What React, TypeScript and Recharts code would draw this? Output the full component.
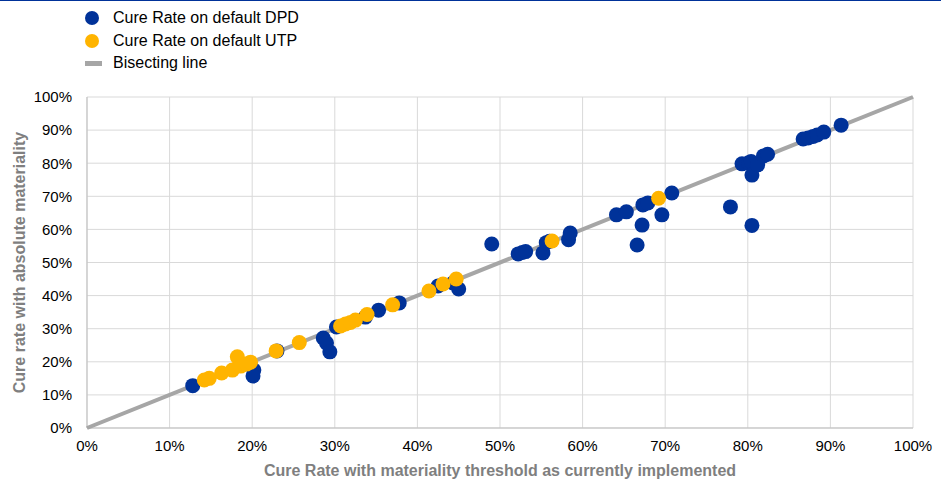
import React from 'react';
import { ScatterChart, Scatter, XAxis, YAxis, CartesianGrid } from 'recharts';

// values in percent
const dpdX = [12.8, 20.2, 20.1, 23.0, 28.6, 29.0, 29.4, 30.2, 33.7, 35.3, 37.8, 42.5, 44.3, 45.0, 49.0, 52.2, 52.7, 53.1, 55.2, 55.6, 56.0, 58.3, 58.5, 64.1, 65.3, 67.3, 67.9, 67.2, 66.6, 69.6, 70.8, 77.9, 79.3, 80.1, 80.4, 80.5, 80.5, 81.2, 81.9, 82.4, 86.7, 87.3, 87.9, 88.4, 89.2, 91.3];
const dpdY = [12.8, 17.5, 15.7, 23.3, 27.2, 25.7, 23.0, 30.5, 33.5, 35.6, 37.8, 42.9, 43.8, 42.0, 55.6, 52.6, 53.0, 53.3, 52.9, 56.0, 56.4, 56.9, 58.9, 64.4, 65.3, 67.4, 68.0, 61.3, 55.3, 64.4, 71.0, 66.8, 79.8, 80.1, 80.5, 76.4, 61.2, 79.5, 82.2, 82.7, 87.3, 87.6, 88.1, 88.5, 89.4, 91.5];

const utpX = [14.2, 14.8, 16.3, 17.6, 18.2, 18.6, 19.3, 19.8, 22.9, 25.7, 30.7, 31.3, 31.9, 32.5, 33.9, 37.0, 41.4, 43.1, 44.7, 56.3, 69.2];
const utpY = [14.5, 15.0, 16.6, 17.5, 21.5, 18.7, 19.3, 19.9, 23.3, 25.8, 30.8, 31.4, 31.9, 32.6, 34.3, 37.2, 41.4, 43.5, 45.0, 56.5, 69.4];

const bisectX = [0, 100];
const bisectY = [0, 100];

const ticks = [0, 10, 20, 30, 40, 50, 60, 70, 80, 90, 100];

const dpd = dpdX.map((x, i) => ({ x, y: dpdY[i] }));
const utp = utpX.map((x, i) => ({ x, y: utpY[i] }));
const bisect = bisectX.map((x, i) => ({ x, y: bisectY[i] }));

const BLUE = '#003299';
const YELLOW = '#ffb400';
const GREY = '#a6a6a6';
const FONT = "Arial, 'Liberation Sans', sans-serif";

const dot = (color: string) => (props: any) => <circle cx={props.cx} cy={props.cy} r={7.5} fill={color} />;

const App = () => {
  return (
    <div style={{ position: 'absolute', left: 0, top: 0, width: 941, height: 482, fontFamily: FONT, background: '#fff' }}>
      <style>{'body{margin:0}'}</style>
      <div style={{ position: 'absolute', left: 0, top: 0, width: 941, height: 1, background: BLUE }} />

      {/* legend */}
      <div style={{ position: 'absolute', left: 85, top: 7, fontSize: 16, color: '#000', lineHeight: '22.5px' }}>
        <div style={{ display: 'flex', alignItems: 'center' }}>
          <span style={{ width: 14, height: 14, borderRadius: 7, background: BLUE, display: 'inline-block', marginRight: 14 }} />
          Cure Rate on default DPD
        </div>
        <div style={{ display: 'flex', alignItems: 'center' }}>
          <span style={{ width: 14, height: 14, borderRadius: 7, background: YELLOW, display: 'inline-block', marginRight: 14 }} />
          Cure Rate on default UTP
        </div>
        <div style={{ display: 'flex', alignItems: 'center' }}>
          <span style={{ width: 17, height: 5, background: GREY, display: 'inline-block', marginRight: 11 }} />
          Bisecting line
        </div>
      </div>

      <ScatterChart width={941} height={482} margin={{ top: 97, right: 28, bottom: 0, left: 0 }}>
        <CartesianGrid stroke="#d9d9d9" strokeWidth={1} />
        <XAxis
          type="number"
          dataKey="x"
          domain={[0, 100]}
          ticks={ticks}
          tickFormatter={(v) => `${v}%`}
          height={54}
          tickLine={false}
          tickSize={0}
          tickMargin={12}
          axisLine={{ stroke: '#bfbfbf' }}
          tick={{ fill: '#000', fontSize: 15, fontFamily: FONT }}
          label={{ value: 'Cure Rate with materiality threshold as currently implemented', position: 'insideBottom', offset: 6, style: { fill: '#7f7f7f', fontSize: 16, fontWeight: 'bold', fontFamily: FONT } }}
        />
        <YAxis
          type="number"
          dataKey="y"
          domain={[0, 100]}
          ticks={ticks}
          tickFormatter={(v) => `${v}%`}
          width={87}
          tickLine={false}
          tickSize={0}
          tickMargin={15}
          axisLine={{ stroke: '#bfbfbf' }}
          tick={{ fill: '#000', fontSize: 15, fontFamily: FONT }}
          label={{ value: 'Cure rate with absolute materiality', angle: -90, position: 'insideLeft', offset: 19, style: { textAnchor: 'middle', fill: '#7f7f7f', fontSize: 16, fontWeight: 'bold', fontFamily: FONT } }}
        />
        <Scatter data={bisect} line={{ stroke: GREY, strokeWidth: 4 }} shape={() => null} isAnimationActive={false} />
        <Scatter data={dpd} shape={dot(BLUE)} isAnimationActive={false} />
        <Scatter data={utp} shape={dot(YELLOW)} isAnimationActive={false} />
      </ScatterChart>
    </div>
  );
};

export default App;
